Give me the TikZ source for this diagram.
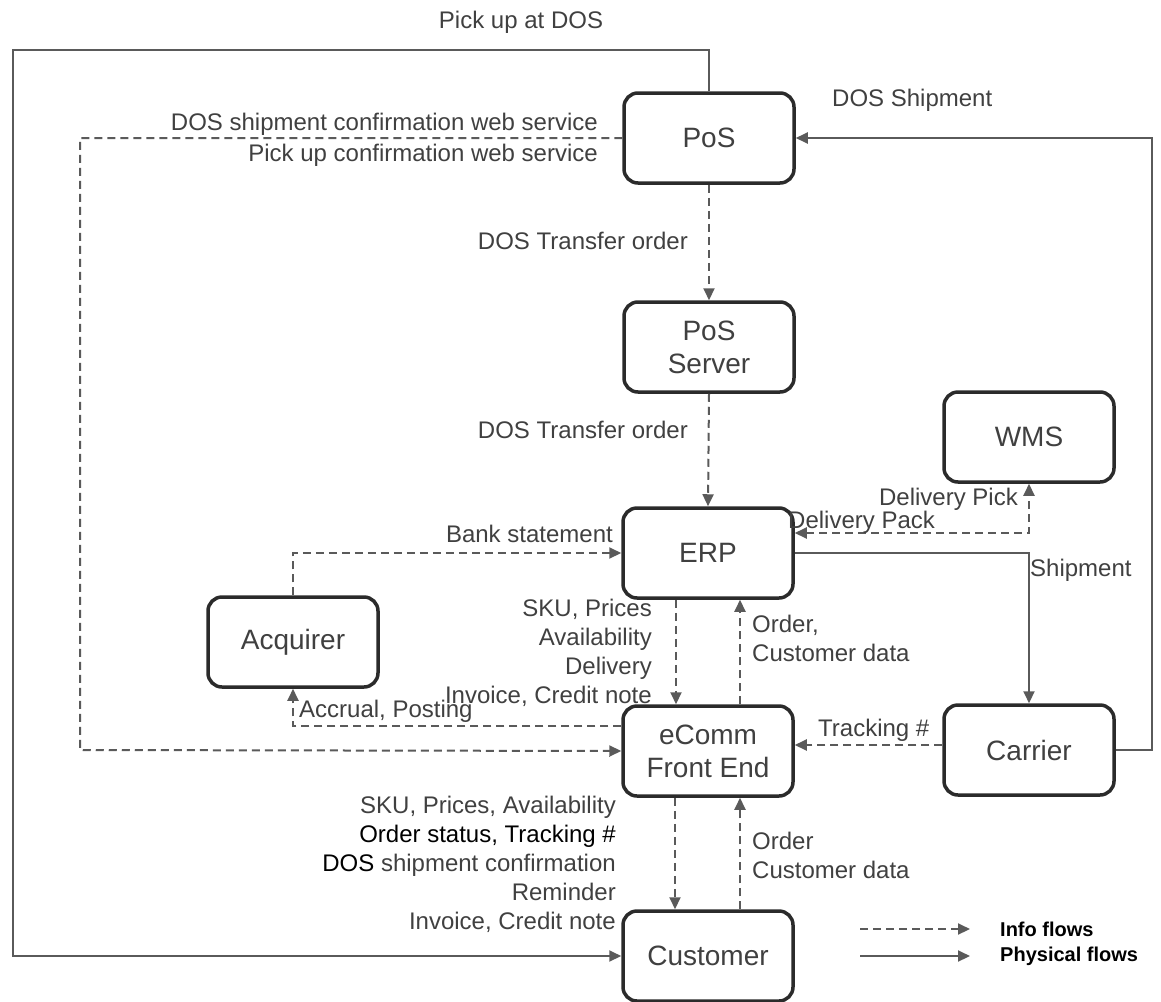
\documentclass[tikz,border=0pt]{standalone}
\usepackage{fontspec}
\setmainfont{Liberation Sans}
\usetikzlibrary{arrows.meta}
\definecolor{txt}{HTML}{404040}
\definecolor{ln}{HTML}{5A5A5A}
\definecolor{bx}{HTML}{2B2B2B}
\begin{document}
\begin{tikzpicture}[x=1pt,y=-1pt,
  >={Triangle[length=12pt,width=11pt]},
  box/.style={draw=bx, line width=3.5pt, rounded corners=14pt, minimum width=170pt, minimum height=90pt, fill=white, text=txt, align=center, font=\fontsize{28}{33}\selectfont, inner sep=0pt},
  lbl/.style={text=txt, inner sep=0pt, font=\fontsize{24}{29}\selectfont},
  leg/.style={text=black, inner sep=0pt, anchor=west, font=\fontsize{20}{24}\selectfont\bfseries},
  info/.style={draw=ln, line width=2pt, dash pattern=on 8pt off 5pt, ->},
  phys/.style={draw=ln, line width=2pt, ->}]
\useasboundingbox (0,0) rectangle (1161,1001);
% nodes
\node[box] (pos) at (709,138) {PoS};
\node[box] (posserver) at (709,347) {PoS\\Server};
\node[box] (wms) at (1029,437) {WMS};
\node[box] (erp) at (708,553) {ERP};
\node[box] (acq) at (293,642) {Acquirer};
\node[box] (ecomm) at (708,751) {eComm\\Front End};
\node[box] (carrier) at (1029,750) {Carrier};
\node[box] (cust) at (708,956) {Customer};
% helper coordinates
\coordinate (pa) at (13,50);
\coordinate (ds) at (1152,138);
\coordinate (wc) at (80,750);
\coordinate (dv) at (1029,533);
\coordinate (acc) at (293,726);
\coordinate (trk) at (870,745);
\coordinate (xa) at (676,0);
\coordinate (xb) at (740,0);
\coordinate (xc) at (675,0);
\coordinate (la1) at (860,929);
\coordinate (lb1) at (970,929);
\coordinate (la2) at (860,956);
\coordinate (lb2) at (970,956);
% connectors
\draw[phys] (pos.north) |- (pa) |- (cust.west);
\draw[phys] (carrier.east) -| (ds) -- (pos.east);
\draw[info] (pos.west) -| (wc) -- (ecomm.west);
\draw[info] (pos.south) -- (posserver.north);
\draw[info] (posserver.south) -- (erp.north);
\draw[info,<->] (erp.east|-dv) -| (wms.south);
\draw[phys] (erp.east) -| (carrier.north);
\draw[info] (acq.north) |- (erp.west);
\draw[info] (erp.south-|xa) -- (ecomm.north-|xa);
\draw[info] (ecomm.north-|xb) -- (erp.south-|xb);
\draw[info] (ecomm.west|-acc) -| (acq.south);
\draw[info] (carrier.west|-trk) -- (ecomm.east|-trk);
\draw[info] (ecomm.south-|xc) -- (cust.north-|xc);
\draw[info] (cust.north-|xb) -- (ecomm.south-|xb);
\draw[info] (la1) -- (lb1);
\draw[phys] (la2) -- (lb2);
% labels
\node[lbl] (t1) at (521,22) {Pick up at DOS};
\node[lbl,anchor=west] (t2) at (832,100) {DOS Shipment};
\node[lbl,anchor=east] (t3) at (598,124) {DOS shipment confirmation web service};
\node[lbl,anchor=east] (t4) at (598,155) {Pick up confirmation web service};
\node[lbl,anchor=east] (t5) at (688,241) {DOS Transfer order};
\node[lbl,anchor=east] (t6) at (688,430) {DOS Transfer order};
\node[lbl,anchor=east] (t7) at (1018,499) {Delivery Pick};
\node[lbl,anchor=west] (t8) at (788,522) {Delivery Pack};
\node[lbl,anchor=east] (t9) at (613,534) {Bank statement};
\node[lbl,anchor=west] (t10) at (1030,570) {Shipment};
\node[lbl,anchor=east,align=right] (t11) at (652,653) {SKU, Prices\\Availability\\Delivery\\Invoice, Credit note};
\node[lbl,anchor=west,align=left] (t12) at (752,638) {Order,\\Customer data};
\node[lbl,anchor=west] (t13) at (299,711) {Accrual, Posting};
\node[lbl,anchor=west] (t14) at (818,730) {Tracking \#};
\node[lbl,anchor=east,align=right] (t15) at (616,864) {SKU, Prices, Availability\\\textcolor{black}{Order status, Tracking \#}\\\textcolor{black}{DOS} shipment confirmation\\Reminder\\Invoice, Credit note};
\node[lbl,anchor=west,align=left] (t16) at (752,855) {Order\\Customer data};
\node[leg] (l1) at (1000,929) {Info flows};
\node[leg] (l2) at (1000,956) {Physical flows};
\end{tikzpicture}
\end{document}
